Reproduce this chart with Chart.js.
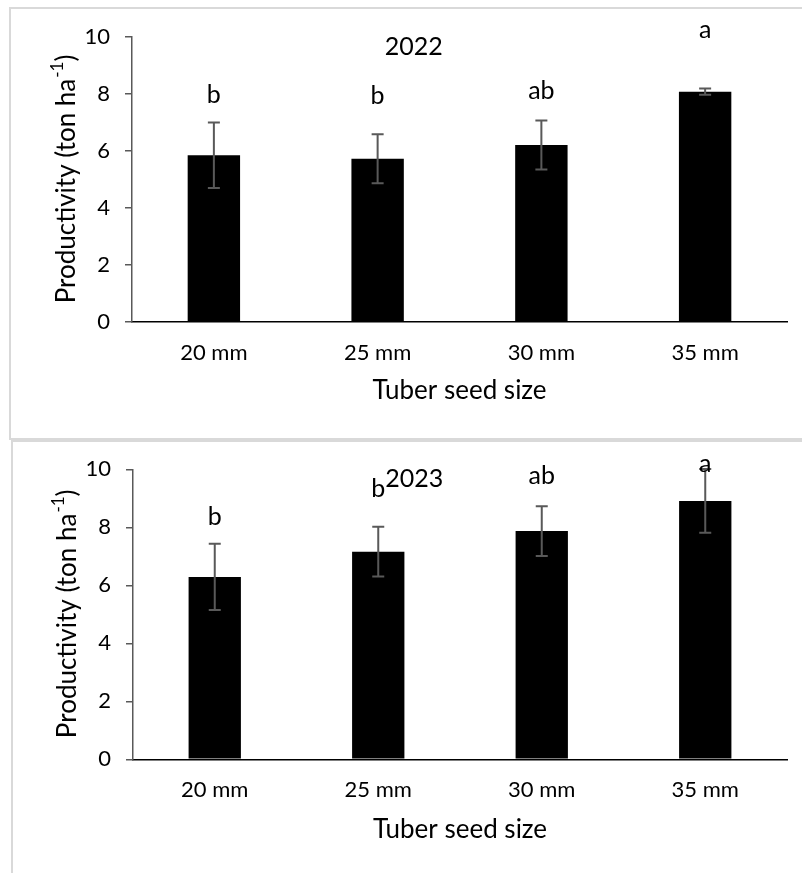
<!DOCTYPE html>
<html><head><meta charset="utf-8">
<script src="https://cdn.jsdelivr.net/npm/chart.js@4.4.1/dist/chart.umd.min.js"></script>
<style>
html,body{margin:0;padding:0;background:#fff;overflow:hidden;}
body{width:802px;height:873px;position:relative;}
.moldura{position:absolute;box-sizing:border-box;border:2px solid #d9d9d9;}
#m1{left:9px;top:7px;width:900px;height:433px;}
#m2{left:11px;top:440px;width:900px;height:600px;}
canvas{position:absolute;left:0;}
#c1{top:0;}
#c2{top:440px;}
</style></head><body>
<div class="moldura" id="m1"></div><div class="moldura" id="m2"></div>
<canvas id="c1" width="802" height="440"></canvas>
<canvas id="c2" width="802" height="433"></canvas>
<script>
// dados
const categorias=['20 mm','25 mm','30 mm','35 mm'];
const prod2022=[5.85,5.73,6.21,8.08];
const erro2022=[1.15,0.86,0.86,0.11];
const letras2022=['b','b','ab','a'];
const altLetra2022=[7.69,7.65,7.82,9.95]; // linha de base das letras, em t/ha
const prod2023=[6.29,7.16,7.87,8.91];
const erro2023=[1.14,0.86,0.86,1.1];
const letras2023=['b','b','ab','a'];
const altLetra2023=[8.08,9.06,9.49,9.92];
const ticksY=[0,2,4,6,8,10];

const FONTE='Lato, "Open Sans", sans-serif';

function tituloY(ctx,cx,cy){
  ctx.save();ctx.translate(cx,cy);ctx.rotate(-Math.PI/2);
  const f1='26px '+FONTE,f2='17px '+FONTE,a='Productivity (ton ha',s='-1',c=')';
  ctx.font=f1;const wa=ctx.measureText(a).width,wc=ctx.measureText(c).width;
  ctx.font=f2;const ws=ctx.measureText(s).width;
  let x=-(wa+ws+wc)/2;
  ctx.textAlign='left';ctx.textBaseline='middle';ctx.fillStyle='#000';
  ctx.font=f1;ctx.fillText(a,x,0);x+=wa;
  ctx.font=f2;ctx.fillText(s,x+1,-9);x+=ws+1;
  ctx.font=f1;ctx.fillText(c,x,0);
  ctx.restore();
}

// barras de erro, letras, ano e título do eixo y
const extras={
  id:'extras',
  afterDatasetsDraw(chart,args,o){
    const ctx=chart.ctx,y=chart.scales.y,meta=chart.getDatasetMeta(0),ca=chart.chartArea;
    ctx.save();
    ctx.strokeStyle='#595959';ctx.lineWidth=2;
    meta.data.forEach((b,i)=>{
      const v=o.valores[i],e=o.erros[i];
      const y1=y.getPixelForValue(v+e),y2=y.getPixelForValue(v-e);
      ctx.beginPath();
      ctx.moveTo(b.x,y1);ctx.lineTo(b.x,y2);
      ctx.moveTo(b.x-6,y1);ctx.lineTo(b.x+6,y1);
      ctx.moveTo(b.x-6,y2);ctx.lineTo(b.x+6,y2);
      ctx.stroke();
    });
    ctx.fillStyle='#000';ctx.font='25px '+FONTE;ctx.textAlign='center';ctx.textBaseline='alphabetic';
    meta.data.forEach((b,i)=>ctx.fillText(o.letras[i],b.x,y.getPixelForValue(o.alturas[i])));
    ctx.fillText(o.ano,ca.left+ca.width*0.43,ca.top+18);
    ctx.restore();
    tituloY(ctx,ca.left-65,(ca.top+ca.bottom)/2);
  }
};

function grafico(id,valores,erros,letras,alturas,ano,g){
  return new Chart(document.getElementById(id),{
    type:'bar',
    data:{labels:categorias,datasets:[{data:valores,backgroundColor:'#000',borderWidth:0,categoryPercentage:1,barPercentage:0.32}]},
    options:{
      responsive:false,animation:false,devicePixelRatio:1,
      layout:{padding:{left:0,right:15,top:g.topo,bottom:0}},
      plugins:{legend:{display:false},tooltip:{enabled:false},
        extras:{valores,erros,letras,alturas,ano}},
      scales:{
        x:{grid:{display:false,drawTicks:false},border:{color:'#000',width:1.5},
          ticks:{font:{family:FONTE,size:22},color:'#000',padding:g.padX},
          title:{display:true,text:'Tuber seed size',color:'#000',font:{family:FONTE,size:26},padding:{top:0,bottom:g.padTit}},
          afterFit(s){s.height=g.altX;}},
        y:{min:0,max:10,
          grid:{drawOnChartArea:false,tickLength:7,color:'#595959',lineWidth:1.5},
          border:{color:'#595959',width:1.5},
          ticks:{font:{family:FONTE,size:22},color:'#000',padding:15},
          afterBuildTicks(s){s.ticks=ticksY.map(v=>({value:v}));},
          afterFit(s){s.width=g.largY;}}
      }
    },
    plugins:[extras]
  });
}

grafico('c1',prod2022,erro2022,letras2022,altLetra2022,'2022',{topo:37,altX:118,largY:132,padX:17.8,padTit:33.4});
grafico('c2',prod2023,erro2023,letras2023,altLetra2023,'2023',{topo:29.3,altX:113.7,largY:133,padX:17.5,padTit:27.4});
</script>
</body></html>
